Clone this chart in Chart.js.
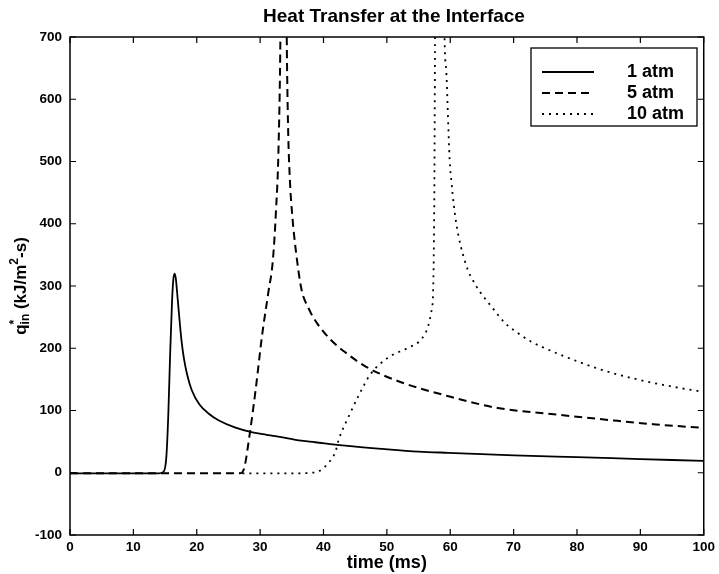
<!DOCTYPE html>
<html>
<head>
<meta charset="utf-8">
<script src="https://cdn.jsdelivr.net/npm/chart.js@4/dist/chart.umd.min.js"></script>
<style>
html,body{margin:0;padding:0;background:#fff;}
#wrap{width:719px;height:574px;position:relative;}
</style>
</head>
<body>
<div id="wrap"><canvas id="c" width="719" height="574"></canvas></div>
<script>
// ---- data ----
const seriesLabels = ["1 atm", "5 atm", "10 atm"];
const xTicks = [0,10,20,30,40,50,60,70,80,90,100];
const yTicks = [-100,0,100,200,300,400,500,600,700];

const t1 = [0, 5, 10, 14, 14.8, 15.2, 15.5, 15.8, 16.1, 16.3, 16.5, 16.7, 16.9, 17.2, 17.6, 18.0, 18.5, 19.2, 20.4, 22, 23.5, 26, 28.8, 31, 34, 36.1, 38.7, 43, 49.7, 55, 59.7, 65, 70.1, 80, 90, 100];
const v1 = [-1, -1, -1, -1, 2, 25, 90, 190, 275, 310, 320, 312, 290, 255, 212, 182, 157, 133, 110, 94, 84, 73, 65, 61, 56, 52, 49, 44, 38, 34, 32, 30, 28, 25, 22, 19];

const t5 = [0, 10, 20, 26.8, 27.5, 28.3, 29.3, 30.3, 31.3, 32.0, 32.5, 32.9, 33.2, 33.7, 34.2, 34.4, 34.7, 35.1, 35.6, 36.5, 37.7, 39, 41.3, 43.5, 46.6, 51.8, 59.7, 67.5, 75.4, 85.8, 92, 100];
const v5 = [-1, -1, -1, -1, 8, 58, 134, 220, 290, 340, 420, 520, 700, 1400, 700, 560, 470, 410, 360, 296, 263, 240, 212, 193, 171, 147, 123, 104, 95, 84, 78, 72];

const t10 = [27.2, 30, 35, 38.2, 39.2, 40.8, 41.9, 42.4, 44, 45.5, 47.4, 50.2, 53.4, 55.4, 56.5, 57.0, 57.3, 57.5, 57.6, 58.3, 59.1, 59.4, 59.9, 60.2, 60.9, 62.4, 64.1, 66.5, 68.6, 70.6, 72.7, 76.1, 78, 83.7, 89.5, 96.3, 100];
const v10 = [-1, -1, -1, 0, 2, 16, 34, 53, 91, 123, 158, 185, 201, 214, 235, 258, 292, 466, 700, 1400, 700, 640, 504, 466, 404, 337, 300, 267, 241, 225, 211, 195, 187, 166, 150, 136, 130];

function pts(t, v){ return t.map((x,i)=>({x:x, y:v[i]})); }

const FONT = "'Liberation Sans', Arial, Helvetica, sans-serif";

const framePlugin = {
  id: 'frame',
  afterDraw(chart){
    const ctx = chart.ctx;
    const a = chart.chartArea;
    const xs = chart.scales.x, ys = chart.scales.y;
    ctx.save();
    // box
    ctx.strokeStyle = '#000';
    ctx.lineWidth = 1.5;
    ctx.setLineDash([]);
    ctx.strokeRect(a.left, a.top, a.right - a.left, a.bottom - a.top);
    // inward ticks
    const L = 6;
    ctx.lineWidth = 1.2;
    ctx.beginPath();
    xTicks.forEach(v=>{
      const p = xs.getPixelForValue(v);
      ctx.moveTo(p, a.bottom); ctx.lineTo(p, a.bottom - L);
      ctx.moveTo(p, a.top); ctx.lineTo(p, a.top + L);
    });
    yTicks.forEach(v=>{
      const p = ys.getPixelForValue(v);
      ctx.moveTo(a.left, p); ctx.lineTo(a.left + L, p);
      ctx.moveTo(a.right, p); ctx.lineTo(a.right - L, p);
    });
    ctx.stroke();

    // title
    ctx.fillStyle = '#000';
    ctx.font = "bold 19px " + FONT;
    ctx.textAlign = 'center';
    ctx.textBaseline = 'middle';
    ctx.fillText("Heat Transfer at the Interface", 394, 17);

    // y axis title with super/subscripts
    ctx.save();
    ctx.translate(21, (a.top + a.bottom)/2);
    ctx.rotate(-Math.PI/2);
    const big = "bold 17px " + FONT, small = "bold 12px " + FONT;
    const parts = [
      {t:"q", f:big, dy:0},
      {t:"*", f:small, dy:-6, keep:true},
      {t:"in", f:small, dy:5},
      {t:" (kJ/m", f:big, dy:0},
      {t:"2", f:small, dy:-6},
      {t:"-s)", f:big, dy:0}
    ];
    let total = 0;
    parts.forEach(p=>{ ctx.font = p.f; p.w = ctx.measureText(p.t).width; if(!p.keep) total += p.w; });
    let x = -total/2;
    ctx.textAlign = 'left';
    ctx.textBaseline = 'middle';
    parts.forEach(p=>{
      ctx.font = p.f;
      ctx.fillText(p.t, x, p.dy);
      if(!p.keep) x += p.w;
    });
    ctx.restore();

    // legend
    const bx = 531, by = 48, bw = 166, bh = 78;
    ctx.fillStyle = '#fff';
    ctx.fillRect(bx, by, bw, bh);
    ctx.lineWidth = 1.3;
    ctx.strokeStyle = '#000';
    ctx.strokeRect(bx, by, bw, bh);
    const rows = [72, 93, 114];
    chart.data.datasets.forEach((ds, i)=>{
      ctx.save();
      ctx.strokeStyle = ds.borderColor;
      ctx.lineWidth = ds.borderWidth;
      ctx.setLineDash(ds.borderDash || []);
      ctx.beginPath();
      ctx.moveTo(542, rows[i]); ctx.lineTo(594, rows[i]);
      ctx.stroke();
      ctx.restore();
      ctx.fillStyle = '#000';
      ctx.font = "bold 18px " + FONT;
      ctx.textAlign = 'left';
      ctx.textBaseline = 'middle';
      ctx.fillText(ds.label, 627, rows[i]);
    });
    ctx.restore();
  }
};

new Chart(document.getElementById('c'), {
  type: 'line',
  data: {
    datasets: [
      { label: seriesLabels[0], data: pts(t1, v1), borderColor: '#000', borderWidth: 1.8, borderDash: [], pointRadius: 0, cubicInterpolationMode: 'monotone', fill: false },
      { label: seriesLabels[1], data: pts(t5, v5), borderColor: '#000', borderWidth: 2, borderDash: [8, 5], pointRadius: 0, cubicInterpolationMode: 'monotone', fill: false },
      { label: seriesLabels[2], data: pts(t10, v10), borderColor: '#000', borderWidth: 1.8, borderDash: [2, 5], pointRadius: 0, cubicInterpolationMode: 'monotone', fill: false }
    ]
  },
  options: {
    responsive: false,
    animation: false,
    layout: { padding: { top: 37, right: 12, left: 0, bottom: 0 } },
    plugins: { legend: { display: false }, title: { display: false }, tooltip: { enabled: false } },
    scales: {
      x: {
        type: 'linear', min: 0, max: 100,
        afterFit(s){ s.height = 39; },
        afterBuildTicks(s){ s.ticks = xTicks.map(v=>({value:v})); },
        grid: { display: false, drawTicks: false, tickLength: 0 }, border: { display: false },
        ticks: { color: '#000', font: { family: FONT, size: 13.5, weight: 'bold' }, padding: 4, maxRotation: 0 },
        title: { display: true, text: 'time (ms)', color: '#000', font: { family: FONT, size: 18, weight: 'bold' }, padding: { top: 0, bottom: 0 } }
      },
      y: {
        type: 'linear', min: -100, max: 700,
        afterFit(s){ s.width = 70; },
        afterBuildTicks(s){ s.ticks = yTicks.map(v=>({value:v})); },
        grid: { display: false, drawTicks: false, tickLength: 0 }, border: { display: false },
        ticks: { color: '#000', font: { family: FONT, size: 13.5, weight: 'bold' }, padding: 8 }
      }
    }
  },
  plugins: [framePlugin]
});
</script>
</body>
</html>
